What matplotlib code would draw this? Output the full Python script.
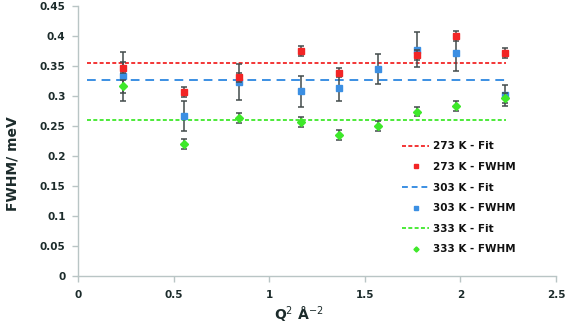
import matplotlib
matplotlib.use("Agg")
import matplotlib.pyplot as plt
from matplotlib.lines import Line2D
import numpy as np

# Q^2 positions (A^-2)
q2_all = [0.237, 0.554, 0.842, 1.165, 1.365, 1.567, 1.773, 1.979, 2.233]
q2_red = [0.237, 0.554, 0.842, 1.165, 1.365, 1.773, 1.979, 2.233]

# FWHM values (meV) and errors
fwhm_273 = [0.347, 0.307, 0.331, 0.375, 0.339, 0.368, 0.400, 0.372]
err_273 = [0.009, 0.008, 0.008, 0.008, 0.008, 0.008, 0.008, 0.008]
fwhm_303 = [0.333, 0.267, 0.323, 0.308, 0.313, 0.345, 0.377, 0.372, 0.301]
err_303 = [0.041, 0.025, 0.030, 0.026, 0.021, 0.025, 0.029, 0.031, 0.018]
fwhm_333 = [0.316, 0.220, 0.263, 0.257, 0.235, 0.250, 0.274, 0.283, 0.297]
err_333 = [0.011, 0.008, 0.008, 0.008, 0.008, 0.008, 0.008, 0.008, 0.008]

# fitted constant levels
fit_x = [0.047, 2.24]
fit_273 = 0.355
fit_303 = 0.326
fit_333 = 0.260

red = "#f22525"
blue = "#3b8fe3"
green = "#3ee82a"
errc = "#434b4b"
txt = "#1c2b2b"

fig = plt.figure(figsize=(5.67, 3.28), dpi=100)
ax = fig.add_axes([0.1376, 0.1585, 0.843, 0.823])

ax.plot(fit_x, [fit_273] * 2, color=red, lw=1.3, dashes=(2.2, 1.3), zorder=2)
ax.plot(fit_x, [fit_303] * 2, color=blue, lw=1.4, dashes=(4.5, 3.0), zorder=2)
ax.plot(fit_x, [fit_333] * 2, color=green, lw=1.3, dashes=(2.2, 1.3), zorder=2)

ax.errorbar(q2_all, fwhm_303, yerr=err_303, fmt="s", color=blue, ms=4.3,
            ecolor=errc, elinewidth=1.1, capsize=2, capthick=1.1, zorder=3)
ax.errorbar(q2_red, fwhm_273, yerr=err_273, fmt="s", color=red, ms=4.3,
            ecolor=errc, elinewidth=1.1, capsize=2, capthick=1.1, zorder=4)
ax.errorbar(q2_all, fwhm_333, yerr=err_333, fmt="D", color=green, ms=3.6,
            ecolor=errc, elinewidth=1.1, capsize=2, capthick=1.1, zorder=5)

ax.set_xlim(0, 2.5)
ax.set_ylim(0, 0.45)
ax.set_xticks(np.arange(0, 2.51, 0.5))
ax.set_xticklabels(["0", "0.5", "1", "1.5", "2", "2.5"])
ax.set_yticks(np.arange(0, 0.451, 0.05))
ax.set_yticklabels(["0", "0.05", "0.1", "0.15", "0.2", "0.25", "0.3", "0.35", "0.4", "0.45"])

for s in ["top", "right"]:
    ax.spines[s].set_visible(False)
for s in ["left", "bottom"]:
    ax.spines[s].set_color("#b9c5c5")
    ax.spines[s].set_linewidth(1.0)
ax.tick_params(colors="#b9c5c5", length=4, width=1.0, labelcolor=txt, labelsize=7.5)
for lab in ax.get_xticklabels() + ax.get_yticklabels():
    lab.set_fontweight("semibold")
ax.tick_params(axis="x", pad=6)
ax.tick_params(axis="y", pad=5)

ax.set_ylabel("FWHM/ meV", fontsize=10, fontweight="bold", color=txt, labelpad=14)
ax.yaxis.set_label_coords(-0.123, 0.415)
ax.set_xlabel("Q$^{2}$ Å$^{-2}$", fontsize=10, fontweight="bold", color=txt, labelpad=4)
ax.xaxis.set_label_coords(0.462, -0.108)

handles = [
    Line2D([], [], color=red, lw=1.3, dashes=(2.2, 1.3)),
    Line2D([], [], color=red, marker="s", ls="none", ms=3.0),
    Line2D([], [], color=blue, lw=1.4, dashes=(3.0, 2.0)),
    Line2D([], [], color=blue, marker="s", ls="none", ms=3.0),
    Line2D([], [], color=green, lw=1.3, dashes=(2.2, 1.3)),
    Line2D([], [], color=green, marker="D", ls="none", ms=2.6),
]
labels = ["273 K - Fit", "273 K - FWHM", "303 K - Fit", "303 K - FWHM",
          "333 K - Fit", "333 K - FWHM"]
leg = fig.legend(handles, labels, loc="upper left", bbox_to_anchor=(0.7005, 0.585),
                 frameon=False, fontsize=7.5, handlelength=2.6, handletextpad=0.3,
                 labelspacing=1.02, borderpad=0)
for t in leg.get_texts():
    t.set_fontweight("bold")
    t.set_color("#111111")

fig.savefig("out.png", dpi=100)
